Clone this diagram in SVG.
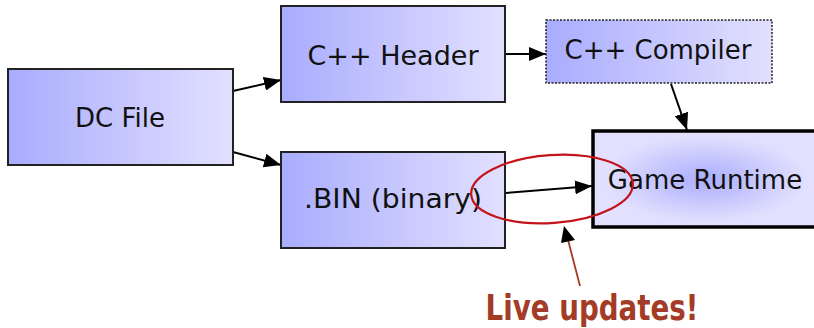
<svg xmlns="http://www.w3.org/2000/svg" width="814" height="328" viewBox="0 0 814 328">
<defs>
<linearGradient id="boxgrad" x1="0" y1="0" x2="1" y2="0">
<stop offset="0" stop-color="#a9acfe"/>
<stop offset="1" stop-color="#e2e0fe"/>
</linearGradient>
<radialGradient id="rungrad" cx="0.5" cy="0.5" r="0.5">
<stop offset="0" stop-color="#aaadfd"/>
<stop offset="0.9" stop-color="#e2e0fe"/>
<stop offset="1" stop-color="#e2e0fe"/>
</radialGradient>
<marker id="ah" viewBox="0 0 10 10" refX="10" refY="5" markerWidth="17" markerHeight="14" markerUnits="userSpaceOnUse" orient="auto" preserveAspectRatio="none">
<path d="M0,0 L10,5 L0,10 z" fill="#000"/>
</marker>
</defs>
<style>
.box{fill:url(#boxgrad);stroke:#222;stroke-width:2}
.lbl{font-family:"DejaVu Sans",Verdana,sans-serif;font-size:26px;fill:#111;text-anchor:middle}
.conn{stroke:#000;stroke-width:2;fill:none;marker-end:url(#ah)}
</style>
<g id="connectors">
<line class="conn" x1="233" y1="91" x2="281" y2="80"/>
<line class="conn" x1="233" y1="152" x2="281" y2="165"/>
<line class="conn" x1="505" y1="54" x2="546" y2="54"/>
<line class="conn" x1="671" y1="84" x2="687" y2="130"/>
<line class="conn" x1="506" y1="193" x2="592" y2="186"/>
</g>
<g id="dc-file">
<rect class="box" x="8" y="69" width="225" height="96"/>
<text class="lbl" x="120" y="127">DC File</text>
</g>
<g id="cpp-header">
<rect class="box" x="281" y="6" width="224" height="96"/>
<text class="lbl" x="393" y="65" style="font-size:27px">C++ Header</text>
</g>
<g id="cpp-compiler">
<rect class="box" x="546" y="20" width="226" height="63" style="stroke-dasharray:2,1.5;stroke-width:1.5"/>
<text class="lbl" x="658" y="59">C++ Compiler</text>
</g>
<g id="bin">
<rect class="box" x="281" y="152" width="224" height="96"/>
<text class="lbl" x="393" y="208" textLength="178" lengthAdjust="spacingAndGlyphs">.BIN (binary)</text>
</g>
<g id="game-runtime">
<rect x="593" y="131" width="225" height="96" fill="url(#rungrad)" stroke="#000" stroke-width="3.5"/>
<text class="lbl" x="705" y="189">Game Runtime</text>
</g>
<g id="live-updates">
<ellipse cx="552" cy="189" rx="81" ry="34" fill="none" stroke="#c4141a" stroke-width="2.2" transform="rotate(-4 552 189)"/>
<line x1="580" y1="286" x2="567" y2="236" stroke="#a53a22" stroke-width="1.8"/>
<path d="M564,226 L575,240 L561,243 z" fill="#000"/>
<text x="592" y="320" font-family="DejaVu Sans Condensed, DejaVu Sans, sans-serif" font-weight="bold" font-size="35" fill="#a33b26" text-anchor="middle" textLength="213" lengthAdjust="spacingAndGlyphs">Live updates!</text>
</g>
</svg>
